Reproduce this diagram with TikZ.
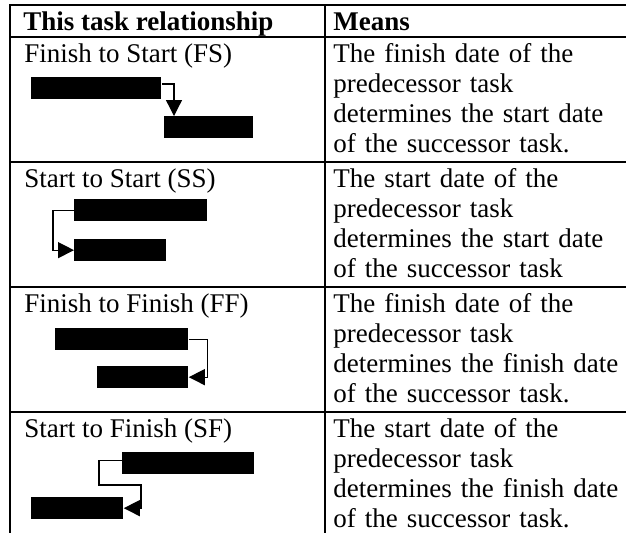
\documentclass[tikz,border=0pt]{standalone}
\usepackage{fontspec}
\setmainfont{Liberation Serif}
\usetikzlibrary{arrows.meta}
\begin{document}
\begin{tikzpicture}[x=0.5pt,y=-0.5pt,
  gridline/.style={line width=1pt, line cap=rect},
  txt/.style={anchor=base west, inner sep=0pt, font=\fontsize{13.5pt}{15pt}\selectfont},
  hdr/.style={txt, font=\fontsize{13.5pt}{15pt}\selectfont\bfseries},
  cell/.style={txt, align=left, text width=150pt},
  bar/.style={rectangle, fill=black, draw=none, inner sep=0pt, anchor=north west, minimum height=10.75pt},
  conn/.style={line width=0.65pt, -{Triangle[width=8pt,length=8pt]}}
]
\useasboundingbox (0,0) rectangle (626,532);
\fill[white] (0,0) rectangle (626,532);

% table grid
\foreach \yy in {5,37,162,287,412} \draw[gridline] (10,\yy) -- (640,\yy);
\draw[gridline] (10,5) -- (10,545);
\draw[gridline] (325,5) -- (325,545);

% header
\node[hdr] (hdrA) at (23,30) {This task relationship};
\node[hdr] (hdrB) at (333,30) {Means};

% left column labels
\node[txt] (lab1) at (24,62) {Finish to Start (FS)};
\node[txt] (lab2) at (24,187) {Start to Start (SS)};
\node[txt] (lab3) at (24,312) {Finish to Finish (FF)};
\node[txt] (lab4) at (24,437) {Start to Finish (SF)};

% right column
\node[cell] (mean1) at (333,62) {The finish date of the\\predecessor task\\determines the start date\\of the successor task.};
\node[cell] (mean2) at (333,187) {The start date of the\\predecessor task\\determines the start date\\of the successor task};
\node[cell] (mean3) at (333,312) {The finish date of the\\predecessor task\\determines the finish date\\of the successor task.};
\node[cell] (mean4) at (333,437) {The start date of the\\predecessor task\\determines the finish date\\of the successor task.};

% FS
\node[bar, minimum width=65pt] (fs1) at (31,77) {};
\node[bar, minimum width=44.5pt] (fs2) at (164,116) {};
\draw[conn] ([yshift=-3.5pt]fs1.north east) -| ([xshift=5pt]fs2.north west);

% SS
\node[bar, minimum width=66.5pt] (ss1) at (74,199) {};
\node[bar, minimum width=46pt] (ss2) at (74,239) {};
\draw[conn] (ss1.west) -- ++(-10.5pt,0) |- (ss2.west);

% FF
\node[bar, minimum width=66.5pt] (ff1) at (55,328) {};
\node[bar, minimum width=45.5pt] (ff2) at (97,366) {};
\draw[conn] (ff1.east) -- ++(9.5pt,0) |- (ff2.east);

% SF
\node[bar, minimum width=66pt] (sf1) at (122,452) {};
\node[bar, minimum width=46pt] (sf2) at (31,497) {};
\coordinate (sfa) at (99,485);
\coordinate (sfb) at (141,485);
\draw[conn] ([yshift=1.5pt]sf1.west) -| (sfa) -- (sfb) |- (sf2.east);
\end{tikzpicture}
\end{document}
